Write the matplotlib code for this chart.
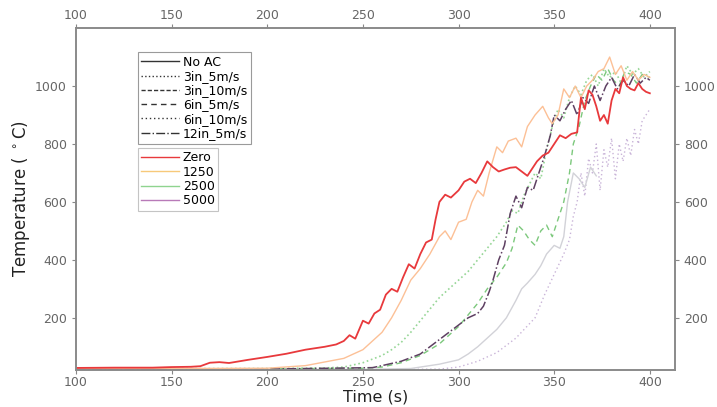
import numpy as np
import matplotlib
matplotlib.use('Agg')
import matplotlib.pyplot as plt
from matplotlib.lines import Line2D

# --- temperature traces (time in s, temperature in deg C) ---
t_zero_noac = [100, 120, 140, 150, 160, 165, 170, 175, 180, 190, 200, 210, 220, 230, 236,
               240, 243, 246, 250, 253, 256, 259, 262, 265, 268, 271, 274, 277, 280, 283,
               286, 288, 290, 293, 296, 300, 303, 306, 309, 312, 315, 318, 321, 324, 327,
               330, 333, 336, 339, 341, 344, 347, 350, 353, 356, 359, 362, 364, 366, 368,
               370, 372, 374, 376, 378, 380, 382, 384, 386, 388, 390, 392, 394, 396, 398, 400]
T_zero_noac = [27, 28, 28, 30, 31, 33, 45, 47, 44, 55, 65, 76, 90, 100, 108,
               120, 140, 128, 190, 180, 215, 228, 280, 300, 290, 340, 385, 370, 420, 460,
               470, 540, 600, 625, 615, 640, 670, 680, 665, 700, 740, 720, 705, 712, 718,
               720, 705, 690, 720, 740, 760, 770, 800, 830, 820, 835, 840, 960, 920, 985,
               970, 930, 880, 900, 870, 950, 990, 975, 1030, 1000, 990, 985, 1010, 990, 980, 975]

t_1250 = [100, 150, 200, 220, 240, 250, 260, 265, 270, 275, 280, 285, 290, 293, 296,
          300, 304, 307, 310, 313, 316, 320, 323, 326, 330, 333, 336, 340, 344, 347,
          349, 352, 355, 358, 361, 364, 367, 370, 373, 376, 379, 382, 385, 388, 391,
          394, 397, 400]
T_1250 = [25, 25, 26, 35, 60, 90, 150, 200, 260, 330, 370, 420, 480, 500, 470,
          530, 540, 600, 640, 620, 700, 790, 770, 810, 820, 790, 860, 900, 930, 890,
          870, 900, 990, 960, 1000, 960, 1000, 1020, 1050, 1060, 1100, 1040, 1070, 1020, 1050,
          1020, 1040, 1030]

t_2500_3in = [100, 200, 230, 240, 250, 260, 265, 270, 275, 280, 285, 290, 295, 300, 305,
              310, 315, 320, 325, 328, 331, 334, 337, 340, 343, 346, 349, 352, 355, 358,
              361, 364, 367, 370, 373, 376, 379, 382, 385, 388, 391, 394, 397, 400]
T_2500_3in = [24, 25, 27, 30, 45, 70, 90, 115, 150, 190, 230, 270, 300, 330, 360,
              400, 440, 480, 530, 570, 560, 620, 660, 700, 680, 780, 860, 920, 890, 960,
              1000, 970, 1020, 1040, 1000, 1060, 1030, 1050, 1010, 1070, 1040, 1060, 1030, 1050]

t_2500_6in = [100, 200, 250, 260, 270, 280, 290, 295, 300, 305, 310, 315, 320, 325, 328,
              331, 334, 337, 340, 343, 346, 349, 352, 355, 358, 360, 363, 366, 369, 372,
              375, 378, 381, 384, 387, 390, 393, 396, 400]
T_2500_6in = [23, 24, 26, 30, 45, 70, 110, 140, 170, 210, 250, 300, 340, 390, 440,
              520, 500, 470, 450, 500, 520, 480, 540, 600, 700, 800, 860, 950, 1000, 1040,
              1020, 1060, 1020, 1000, 1050, 1040, 1010, 1040, 1030]

t_5000_12in = [100, 200, 255, 260, 270, 280, 285, 290, 295, 300, 305, 310, 313, 316, 318,
               321, 324, 327, 330, 333, 336, 339, 342, 345, 348, 350, 353, 356, 359, 362,
               365, 368, 371, 374, 377, 380, 383, 386, 389, 392, 395, 398, 400]
T_5000_12in = [22, 23, 28, 35, 50, 75, 100, 125, 150, 175, 200, 215, 240, 290, 330,
               400, 450, 560, 620, 580, 650, 640, 700, 760, 830, 900, 880, 920, 950, 900,
               960, 940, 1000, 950, 1000, 1030, 990, 1020, 1000, 1040, 1010, 1030, 1020]

t_5000_noac = [100, 250, 275, 280, 290, 300, 305, 310, 315, 320, 325, 330, 333, 336, 340,
               343, 346, 350, 353, 355, 357, 360, 363, 366, 369, 372]
T_5000_noac = [22, 22, 25, 30, 40, 55, 75, 100, 130, 160, 200, 260, 300, 320, 350,
               380, 420, 450, 440, 480, 600, 700, 680, 650, 720, 690]

t_5000_6in = [100, 250, 290, 300, 310, 320, 330, 340, 345, 350, 355, 358, 360, 362, 364,
              366, 368, 370, 372, 374, 376, 378, 380, 382, 384, 386, 388, 390, 392, 394,
              396, 398, 400]
T_5000_6in = [21, 21, 23, 30, 50, 80, 130, 200, 280, 350, 420, 470, 550, 600, 700,
              620, 750, 700, 800, 640, 780, 720, 820, 680, 800, 740, 820, 760, 850, 800,
              880, 900, 920]

ac_labels = ['No AC', '3in_5m/s', '3in_10m/s', '6in_5m/s', '6in_10m/s', '12in_5m/s']
ac_styles = ['-', ':', (0, (3, 1.5)), (0, (4, 3)), (0, (1, 2)), '-.']
hrr_labels = ['Zero', '1250', '2500', '5000']
hrr_colors = ['#e8393c', '#f7c97a', '#8fd48f', '#b87ab8']

fig = plt.figure(figsize=(7.17, 4.07), dpi=100)
ax = fig.add_axes([0.106, 0.091, 0.835, 0.840])

ax.plot(t_5000_6in, T_5000_6in, ls=(0, (1, 2)), color='#c9b4d8', lw=1.0)
ax.plot(t_5000_noac, T_5000_noac, ls='-', color='#d2d2d8', lw=1.0)
ax.plot(t_2500_6in, T_2500_6in, ls=(0, (4, 3)), color='#7cc87c', lw=1.0)
ax.plot(t_2500_3in, T_2500_3in, ls=':', color='#96d696', lw=1.2)
ax.plot(t_5000_12in, T_5000_12in, ls='-.', color='#5e4062', lw=1.1)
ax.plot(t_1250, T_1250, ls='-', color='#fcc096', lw=1.0)
ax.plot(t_zero_noac, T_zero_noac, ls='-', color='#e8393c', lw=1.3)

ax.set_xlim(100, 413)
ax.set_ylim(20, 1200)
ax.set_xticks([100, 150, 200, 250, 300, 350, 400])
ax.set_yticks([200, 400, 600, 800, 1000])

ax.tick_params(axis='both', which='both', direction='out', length=3, width=0.8,
               colors='#888888', labelcolor='#666666', labelsize=9,
               top=True, right=True, labeltop=True, labelright=True)
ax.tick_params(axis='x', pad=1.5)
for sp in ax.spines.values():
    sp.set_color('#8a8a8a')
    sp.set_linewidth(1.4)

ax.set_xlabel('Time (s)', fontsize=11.5, color='#222222', labelpad=0.5)
ax.set_ylabel('Temperature ( $^\\circ$C)', fontsize=12, color='#222222', labelpad=2)

# two legends: line style = AC setup, colour = fire size
h1 = [Line2D([], [], color='#333333', ls=s, lw=1.0) for s in ac_styles]
leg1 = ax.legend(h1, ac_labels, loc='upper left', bbox_to_anchor=(0.103, 0.93),
                 fontsize=9, handlelength=3.0, handletextpad=0.3, labelspacing=0.1,
                 borderpad=0.3, borderaxespad=0, fancybox=False, framealpha=1,
                 edgecolor='#9a9a9a')
leg1.get_frame().set_linewidth(0.8)
ax.add_artist(leg1)

h2 = [Line2D([], [], color=c, ls='-', lw=1.0) for c in hrr_colors]
leg2 = ax.legend(h2, hrr_labels, loc='upper left', bbox_to_anchor=(0.103, 0.65),
                 fontsize=9, handlelength=3.0, handletextpad=0.3, labelspacing=0.1,
                 borderpad=0.3, borderaxespad=0, fancybox=False, framealpha=1,
                 edgecolor='#c4c4c4')
leg2.get_frame().set_linewidth(0.8)

plt.savefig('out.png', dpi=100)
